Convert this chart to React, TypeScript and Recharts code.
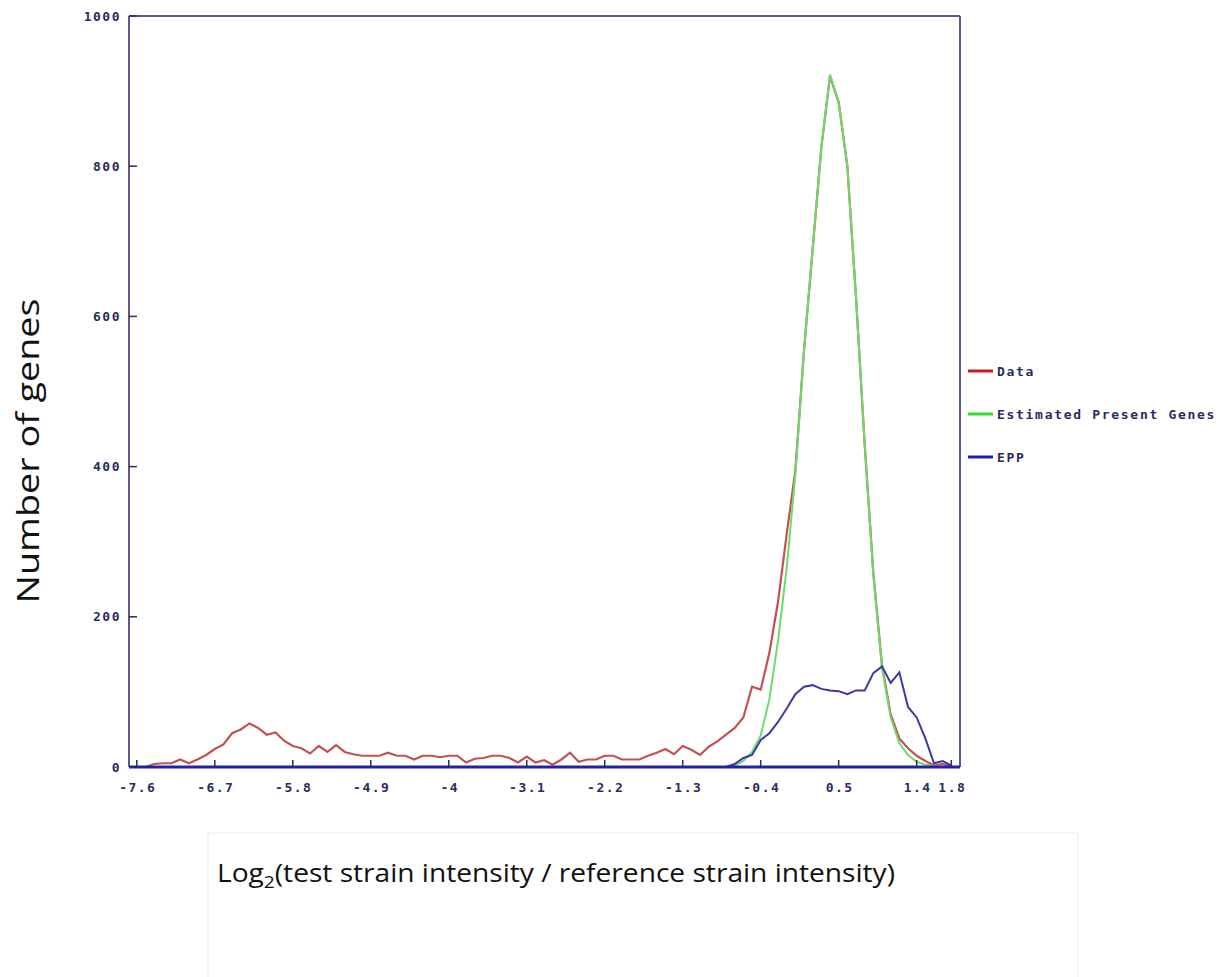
import { LineChart, Line, XAxis, YAxis, ReferenceLine } from "recharts";

// log2 ratio bins
const xValues = [
  -7.6, -7.5, -7.4, -7.3, -7.2, -7.1, -7.0, -6.9, -6.8, -6.7,
  -6.6, -6.5, -6.4, -6.3, -6.2, -6.1, -6.0, -5.9, -5.8, -5.7,
  -5.6, -5.5, -5.4, -5.3, -5.2, -5.1, -5.0, -4.9, -4.8, -4.7,
  -4.6, -4.5, -4.4, -4.3, -4.2, -4.1, -4.0, -3.9, -3.8, -3.7,
  -3.6, -3.5, -3.4, -3.3, -3.2, -3.1, -3.0, -2.9, -2.8, -2.7,
  -2.6, -2.5, -2.4, -2.3, -2.2, -2.1, -2.0, -1.9, -1.8, -1.7,
  -1.6, -1.5, -1.4, -1.3, -1.2, -1.1, -1.0, -0.9, -0.8, -0.7,
  -0.6, -0.5, -0.4, -0.3, -0.2, -0.1, 0.0, 0.1, 0.2, 0.3,
  0.4, 0.5, 0.6, 0.7, 0.8, 0.9, 1.0, 1.1, 1.2, 1.3,
  1.4, 1.5, 1.6, 1.7, 1.8,
];

const dataValues = [
  0, 0, 4, 5, 5, 10, 5, 10, 16, 24,
  30, 45, 50, 58, 52, 43, 46, 35, 28, 25,
  18, 28, 20, 29, 20, 17, 15, 15, 15, 19,
  15, 15, 10, 15, 15, 13, 15, 15, 6, 11,
  12, 15, 15, 12, 6, 14, 6, 9, 3, 10,
  19, 7, 10, 10, 15, 15, 10, 10, 10, 15,
  19, 24, 17, 28, 23, 16, 27, 34, 43, 52,
  66, 107, 103, 152, 220, 310, 395, 555, 690, 825,
  920, 885, 800, 625, 430, 258, 135, 70, 38, 25,
  15, 8, 2, 4, 0,
];

const presentValues = [
  0, 0, 0, 0, 0, 0, 0, 0, 0, 0,
  0, 0, 0, 0, 0, 0, 0, 0, 0, 0,
  0, 0, 0, 0, 0, 0, 0, 0, 0, 0,
  0, 0, 0, 0, 0, 0, 0, 0, 0, 0,
  0, 0, 0, 0, 0, 0, 0, 0, 0, 0,
  0, 0, 0, 0, 0, 0, 0, 0, 0, 0,
  0, 0, 0, 0, 0, 0, 0, 0, 0, 2,
  8, 20, 42, 90, 168, 265, 390, 555, 690, 825,
  922, 885, 800, 625, 430, 255, 132, 66, 32, 16,
  7, 3, 1, 0, 0,
];

const eppValues = [
  0, 0, 0, 0, 0, 0, 0, 0, 0, 0,
  0, 0, 0, 0, 0, 0, 0, 0, 0, 0,
  0, 0, 0, 0, 0, 0, 0, 0, 0, 0,
  0, 0, 0, 0, 0, 0, 0, 0, 0, 0,
  0, 0, 0, 0, 0, 0, 0, 0, 0, 0,
  0, 0, 0, 0, 0, 0, 0, 0, 0, 0,
  0, 0, 0, 0, 0, 0, 0, 0, 0, 4,
  12, 16, 36, 45, 60, 78, 97, 107, 109, 104,
  102, 101, 97, 102, 102, 125, 134, 112, 126, 80,
  66, 38, 5, 8, 2,
];

const xTicks = [-7.6, -6.7, -5.8, -4.9, -4, -3.1, -2.2, -1.3, -0.4, 0.5, 1.4, 1.8];
const yTicks = [0, 200, 400, 600, 800, 1000];
const xDomain = [-7.69, 1.9];
const yDomain = [0, 1000];

const legendItems = [
  { name: "Data", color: "#d01c1c" },
  { name: "Estimated Present Genes", color: "#2fdc2f" },
  { name: "EPP", color: "#1c1cb4" },
];

const chartData = xValues.map((x, i) => ({
  x,
  data: dataValues[i],
  present: presentValues[i],
  epp: eppValues[i],
}));

const TICK_FONT = "'DejaVu Sans Mono', monospace";
const INK = "#2b2b5e";
const FRAME = "#5a5a8e";
const TITLE_FONT = "'Liberation Sans Narrow', 'Open Sans', 'Liberation Sans', sans-serif";

const tickText = {
  fontFamily: TICK_FONT,
  fontSize: 13,
  fontWeight: 700,
  letterSpacing: 1.5,
  fill: INK,
};

function XTick({ x, y, payload }: any) {
  return (
    <g>
      <line x1={x} y1={y} x2={x} y2={y - 7} stroke={INK} strokeWidth={1.5} />
      <text x={x + 1} y={y + 20} dy="0.35em" textAnchor="middle" {...tickText}>
        {payload.value}
      </text>
    </g>
  );
}

function YTick({ x, y, payload }: any) {
  return (
    <g>
      <line x1={x} y1={y} x2={x + 8} y2={y} stroke={INK} strokeWidth={1.5} />
      <text x={x - 8} y={y} dy="0.35em" textAnchor="end" {...tickText}>
        {payload.value}
      </text>
    </g>
  );
}

export default function App() {
  return (
    <div style={{ position: "absolute", left: 0, top: 0, width: 1232, height: 977, background: "#fff" }}>
      <LineChart
        width={1232}
        height={977}
        data={chartData}
        margin={{ top: 16, right: 272, bottom: 180, left: 69 }}
      >
        <XAxis
          dataKey="x"
          type="number"
          domain={xDomain}
          allowDataOverflow
          ticks={xTicks}
          interval={0}
          height={30}
          tickSize={0}
          tickMargin={0}
          tickLine={false}
          tick={<XTick />}
          axisLine={{ stroke: "#2222a6", strokeWidth: 3 }}
        />
        <YAxis
          type="number"
          domain={yDomain}
          ticks={yTicks}
          interval={0}
          width={60}
          tickSize={0}
          tickMargin={0}
          tickLine={false}
          tick={<YTick />}
          axisLine={{ stroke: FRAME, strokeWidth: 2 }}
        />
        <ReferenceLine y={1000} stroke={FRAME} strokeWidth={2} />
        <ReferenceLine x={1.9} stroke={FRAME} strokeWidth={2} />
        <Line
          type="linear"
          dataKey="data"
          name="Data"
          stroke="#c25252"
          strokeWidth={2.2}
          dot={false}
          activeDot={false}
          isAnimationActive={false}
        />
        <Line
          type="linear"
          dataKey="present"
          name="Estimated Present Genes"
          stroke="#6bdc6b"
          strokeWidth={2}
          dot={false}
          activeDot={false}
          isAnimationActive={false}
        />
        <Line
          type="linear"
          dataKey="epp"
          name="EPP"
          stroke="#3a3aa6"
          strokeWidth={2}
          dot={false}
          activeDot={false}
          isAnimationActive={false}
        />
      </LineChart>

      <svg
        width={1232}
        height={977}
        style={{ position: "absolute", left: 0, top: 0, pointerEvents: "none" }}
      >
        {legendItems.map((item, i) => (
          <g key={item.name}>
            <line
              x1={968}
              x2={993}
              y1={371 + i * 43}
              y2={371 + i * 43}
              stroke={item.color}
              strokeWidth={3}
            />
            <text x={997} y={371 + i * 43} dy="0.35em" {...tickText} letterSpacing={1.7}>
              {item.name}
            </text>
          </g>
        ))}

        <text
          transform="translate(39,451) rotate(-90)"
          textAnchor="middle"
          fontFamily={TITLE_FONT}
          fontSize={31}
          fill="#111"
          textLength={305}
          lengthAdjust="spacingAndGlyphs"
        >
          Number of genes
        </text>

        <rect x={208} y={833} width={870} height={150} fill="none" stroke="#ececec" strokeWidth={1} />
        <text
          x={217}
          y={882}
          fontFamily={TITLE_FONT}
          fontSize={25}
          fill="#111"
          textLength={678}
          lengthAdjust="spacingAndGlyphs"
        >
          Log
          <tspan fontSize={17} dy={6}>2</tspan>
          <tspan dy={-6}>(test strain intensity / reference strain intensity)</tspan>
        </text>
      </svg>
    </div>
  );
}
